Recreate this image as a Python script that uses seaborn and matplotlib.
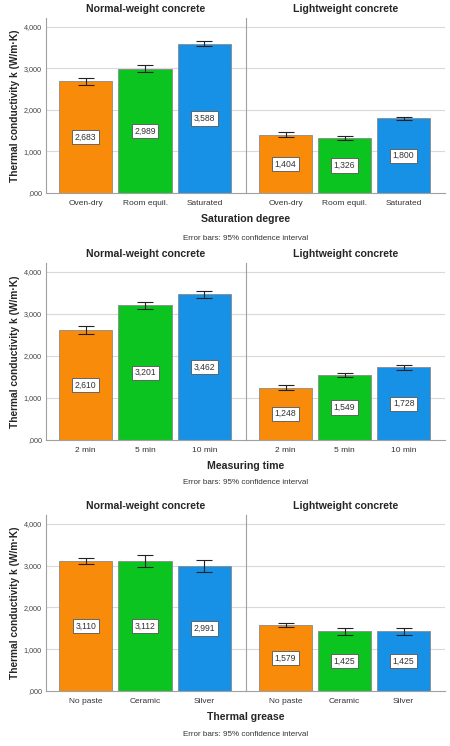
import pandas as pd
import matplotlib
matplotlib.use("Agg")
import matplotlib.pyplot as plt
import seaborn as sns

# data (W/m·K), SPSS style comma decimals
groups = ["Normal-weight concrete", "Lightweight concrete"]

sat_labels = ["Oven-dry", "Room equil.", "Saturated"]
sat_nw = [2.683, 2.989, 3.588]
sat_lw = [1.404, 1.326, 1.800]
sat_nw_ci = [0.080, 0.080, 0.060]
sat_lw_ci = [0.065, 0.040, 0.035]

time_labels = ["2 min", "5 min", "10 min"]
time_nw = [2.610, 3.201, 3.462]
time_lw = [1.248, 1.549, 1.728]
time_nw_ci = [0.090, 0.080, 0.080]
time_lw_ci = [0.055, 0.050, 0.060]

grease_labels = ["No paste", "Ceramic", "Silver"]
grease_nw = [3.110, 3.112, 2.991]
grease_lw = [1.579, 1.425, 1.425]
grease_nw_ci = [0.080, 0.135, 0.150]
grease_lw_ci = [0.045, 0.080, 0.080]

xlabels = ["Saturation degree", "Measuring time", "Thermal grease"]
yticks = [0, 1, 2, 3, 4]

colors = ["#F98B0B", "#0BC41F", "#1691E6"]

sns.set_theme(style="white")
plt.rcParams['font.family'] = ['Liberation Sans', 'DejaVu Sans']

W, H = 450, 746
fig = plt.figure(figsize=(W / 100, H / 100), dpi=100)


def fmt(v):
    # 2.683 -> "2,683", 0 -> ",000"
    s = f"{v:.3f}".replace('.', ',')
    return s[1:] if s.startswith('0') else s


def panel(ax, cats, vals, ci, title, first):
    df = pd.DataFrame({'cat': cats, 'val': vals})
    sns.barplot(data=df, x='cat', y='val', hue='cat', palette=colors, width=0.9, saturation=1,
                edgecolor='#8a8a8a', linewidth=0.6, errorbar=None, legend=False, ax=ax, zorder=2)
    ax.errorbar(range(len(cats)), vals, yerr=ci, fmt='none', ecolor='#222222',
                elinewidth=0.8, capsize=6, capthick=0.8, zorder=3)
    for i, v in enumerate(vals):
        ax.text(i, v / 2, fmt(v), ha='center', va='center', fontsize=6.2, color='#333333', zorder=4,
                bbox=dict(boxstyle='square,pad=0.3', fc='white', ec='#555555', lw=0.6))
    ax.set_xlim(-0.67, 2.70)
    ax.set_ylim(0, 4.21)
    ax.set_yticks(yticks)
    ax.set_yticklabels([fmt(t) for t in yticks])
    for t in [1, 2, 3, 4]:
        ax.axhline(t, color='#d9d9d9', lw=0.8, zorder=0)
    ax.set_xlabel('')
    ax.set_ylabel('')
    ax.set_title(title, fontsize=7.6, fontweight='bold', pad=4)
    ax.tick_params(axis='x', length=0, pad=5, labelsize=6, labelcolor='#333333')
    ax.tick_params(axis='y', length=0, pad=3, labelsize=5.2, labelcolor='#444444')
    ax.spines['top'].set_visible(False)
    ax.spines['right'].set_visible(False)
    for s in ['left', 'bottom']:
        ax.spines[s].set_color('#a0a0a0')
        ax.spines[s].set_linewidth(0.8)
    if not first:
        ax.set_yticklabels([])


rows = [
    (sat_labels, sat_nw, sat_lw, sat_nw_ci, sat_lw_ci, 18, 193, 219, 238),
    (time_labels, time_nw, time_lw, time_nw_ci, time_lw_ci, 263, 440, 466, 483),
    (grease_labels, grease_nw, grease_lw, grease_nw_ci, grease_lw_ci, 515, 691, 717, 735),
]

x0, xm, x1 = 46, 246, 445
for k, (cats, nw, lw, nwci, lwci, top, bot, xl_y, fn_y) in enumerate(rows):
    axl = fig.add_axes([x0 / W, 1 - bot / H, (xm - x0) / W, (bot - top) / H])
    axr = fig.add_axes([xm / W, 1 - bot / H, (x1 - xm) / W, (bot - top) / H])
    panel(axl, cats, nw, nwci, groups[0], True)
    panel(axr, cats, lw, lwci, groups[1], False)
    fig.text((x0 + x1) / 2 / W, 1 - xl_y / H, xlabels[k], ha='center', va='center',
             fontsize=7.6, fontweight='bold')
    fig.text((x0 + x1) / 2 / W, 1 - fn_y / H, "Error bars: 95% confidence interval",
             ha='center', va='center', fontsize=5.8, color='#333333')
    fig.text(15 / W, 1 - (top + bot) / 2 / H, "Thermal conductivity k (W/m·K)", rotation=90,
             ha='center', va='center', fontsize=7.3, fontweight='bold')

fig.savefig('out.png', dpi=100, facecolor='white')
